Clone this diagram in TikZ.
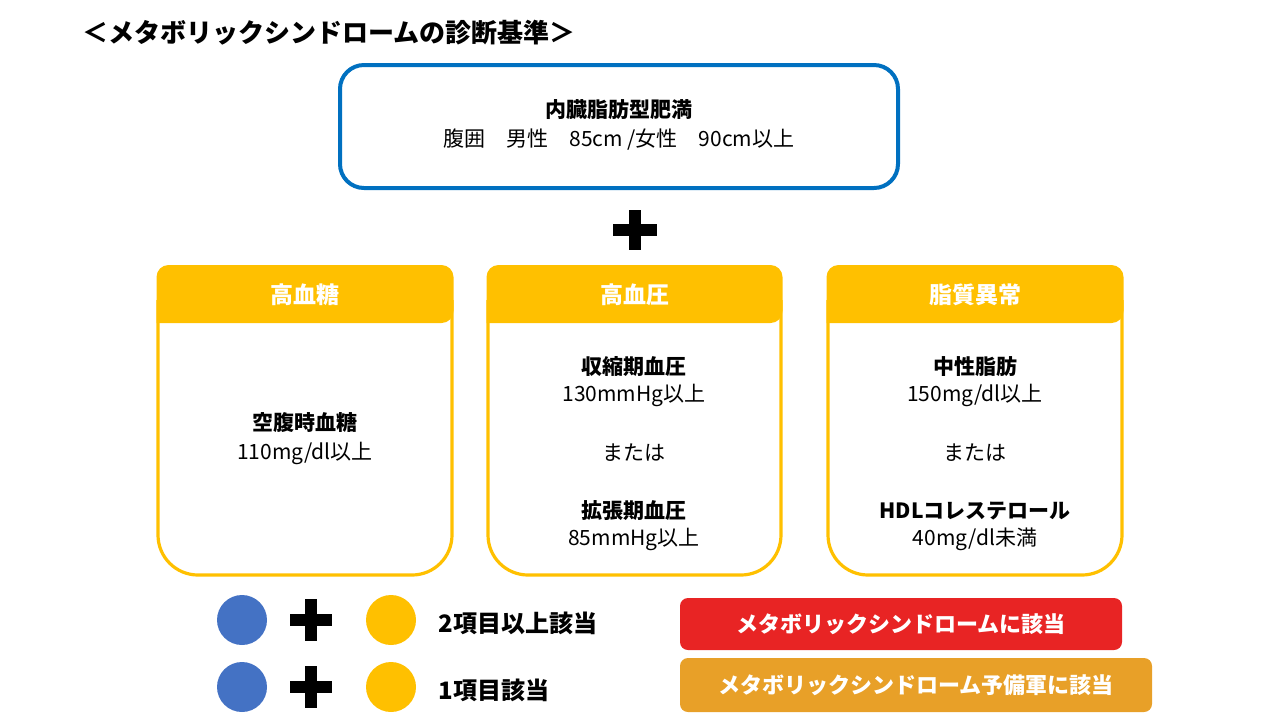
\documentclass[tikz,border=0pt]{standalone}
\usepackage{fontspec}
\setmainfont{Noto Sans CJK JP}
\newfontfamily\jpb{Noto Sans CJK JP Bold}
\definecolor{myblue}{RGB}{0,112,192}
\definecolor{myyel}{RGB}{255,192,0}
\definecolor{circblue}{RGB}{68,114,196}
\definecolor{myred}{RGB}{232,36,36}
\definecolor{myorange}{RGB}{232,160,40}
\begin{document}
\begin{tikzpicture}[x=0.5pt,y=-0.5pt,
  txt/.style={font=\fontsize{10.5}{14}\selectfont,align=center,inner sep=0},
  btxt/.style={font=\fontsize{10.5}{14}\selectfont\bfseries,align=center,inner sep=0},
  head/.style={font=\fontsize{11.5}{14}\selectfont\bfseries,text=white,inner sep=0},
  plusbar/.style={fill=black}]
\useasboundingbox (0,0) rectangle (1280,720);
\node[font=\fontsize{13}{16}\selectfont\bfseries,anchor=west,inner sep=0] (title) at (82,33) {＜メタボリックシンドロームの診断基準＞};
\draw[myblue,line width=2pt,rounded corners=12pt] (340,65) rectangle (898,188);
\node[btxt] (t1) at (619,110) {内臓脂肪型肥満};
\node[txt] (t2) at (619,140) {腹囲\quad 男性\quad 85cm /女性\quad 90cm以上};
% plus
\fill (629,210) rectangle (641,250); \fill (613,224) rectangle (657,236);
\foreach \xa/\xb/\h [count=\i] in {158/452/高血糖,488/781/高血圧,828/1122/脂質異常}{
  \draw[myyel,line width=1.6pt,rounded corners=20pt] (\xa,300) -- (\xa,575) -- (\xb,575) -- (\xb,300);
  \fill[myyel,rounded corners=6pt] (\xa-1.5,323) -- (\xa-1.5,265) -- (\xb+1.5,265) -- (\xb+1.5,323) [sharp corners]-- cycle;
  \node[head] (h\i) at ({(\xa+\xb)/2},295) {\h};
}
\node[btxt] (a1) at (305,423) {空腹時血糖};
\node[txt] (a2) at (305,453) {110mg/dl以上};
\node[btxt] (b1) at (634,367) {収縮期血圧};
\node[txt] (b2) at (634,395) {130mmHg以上};
\node[txt] (b3) at (634,453) {または};
\node[btxt] (b4) at (634,511) {拡張期血圧};
\node[txt] (b5) at (634,539) {85mmHg以上};
\node[btxt] (c1) at (975,367) {中性脂肪};
\node[txt] (c2) at (975,395) {150mg/dl以上};
\node[txt] (c3) at (975,453) {または};
\node[btxt] (c4) at (975,511) {HDLコレステロール};
\node[txt] (c5) at (975,539) {40mg/dl未満};
% bottom rows
\foreach \y/\t [count=\j] in {620/2項目以上該当,687/1項目該当}{
  \fill[circblue] (242,\y) circle (25);
  \fill[myyel] (391,\y) circle (25);
  \fill (305,\y-21) rectangle (317,\y+21); \fill (290,\y-6) rectangle (332,\y+6);
  \node[font=\fontsize{12}{14}\selectfont\bfseries,anchor=west,inner sep=0] (r\j) at (438,\y+3) {\t};
}
\node[fill=myred,rounded corners=4pt,minimum width=221pt,minimum height=26pt,text=white,font=\fontsize{11}{14}\selectfont\bfseries] (m1) at (901,624) {メタボリックシンドロームに該当};
\node[fill=myorange,rounded corners=4pt,minimum width=236pt,minimum height=27pt,text=white,font=\fontsize{11}{14}\selectfont\bfseries] (m2) at (916,685) {メタボリックシンドローム予備軍に該当};
\end{tikzpicture}
\end{document}
